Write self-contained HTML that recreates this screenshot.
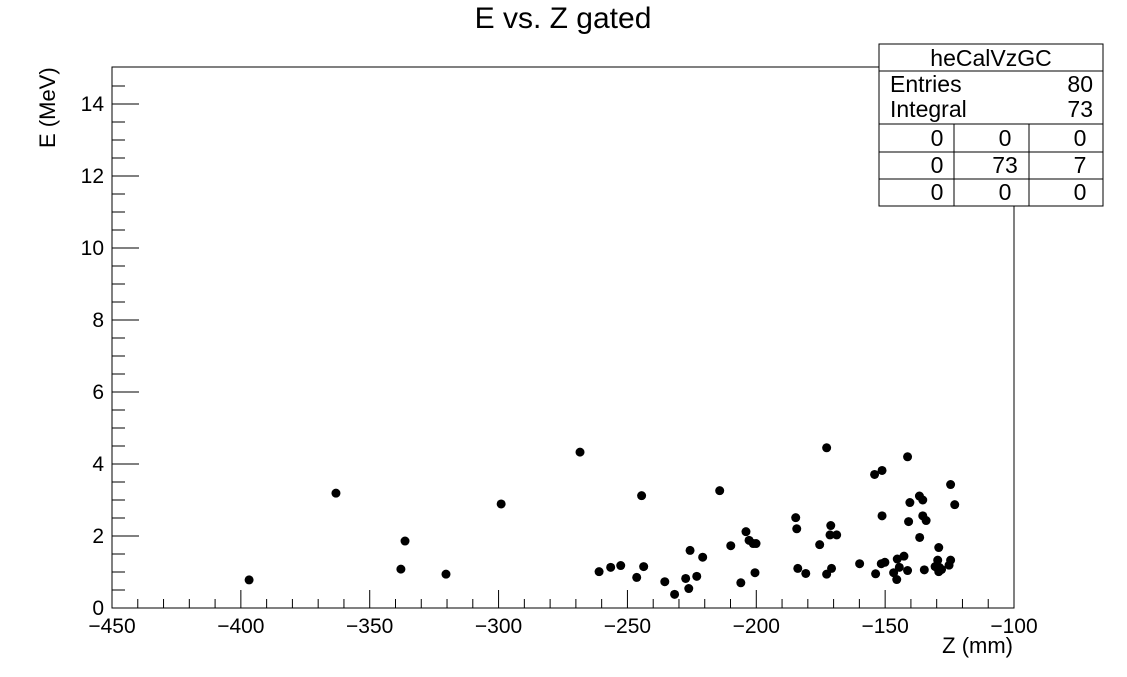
<!DOCTYPE html>
<html><head><meta charset="utf-8"><style>
body{margin:0;background:#fff;}
svg{display:block;font-family:"Liberation Sans",sans-serif;}
</style></head><body>
<svg id="chart" width="1127" height="677">
<text x="563" y="28" font-size="30" text-anchor="middle">E vs. Z gated</text>
<rect x="112" y="67" width="902" height="541" fill="none" stroke="#000" stroke-width="1"/>
<g id="axes"></g>
<g id="points"></g>
<text x="1013" y="653" font-size="22" text-anchor="end">Z (mm)</text>
<text transform="translate(55,148) rotate(-90)" font-size="22" text-anchor="start">E (MeV)</text>
<g font-size="23">
<rect x="879" y="44" width="224" height="162" fill="#fff" stroke="#000"/>
<text x="991" y="66" text-anchor="middle">heCalVzGC</text>
<line x1="879" y1="71" x2="1103" y2="71" stroke="#000"/>
<text x="890" y="92">Entries</text>
<text x="1093" y="92" text-anchor="end">80</text>
<text x="890" y="117">Integral</text>
<text x="1093" y="117" text-anchor="end">73</text>
<line x1="879" y1="124" x2="1103" y2="124" stroke="#000"/>
<line x1="879" y1="152" x2="1103" y2="152" stroke="#000"/>
<line x1="879" y1="179" x2="1103" y2="179" stroke="#000"/>
<line x1="954" y1="124" x2="954" y2="206" stroke="#000"/>
<line x1="1029" y1="124" x2="1029" y2="206" stroke="#000"/>
<text x="937" y="146" text-anchor="middle">0</text><text x="1005" y="146" text-anchor="middle">0</text><text x="1080" y="146" text-anchor="middle">0</text>
<text x="937" y="173" text-anchor="middle">0</text><text x="1005" y="173" text-anchor="middle">73</text><text x="1080" y="173" text-anchor="middle">7</text>
<text x="937" y="200" text-anchor="middle">0</text><text x="1005" y="200" text-anchor="middle">0</text><text x="1080" y="200" text-anchor="middle">0</text>
</g>
</svg>
<script>
const xTicks=[-450,-400,-350,-300,-250,-200,-150,-100];
const yTicks=[0,2,4,6,8,10,12,14];
const zValues=[-396.8,-363.1,-337.9,-336.3,-320.4,-299.0,-268.4,-261.0,-256.5,-252.6,-246.4,-244.5,-243.7,-235.5,-231.7,-227.4,-226.2,-225.7,-223.1,-220.8,-214.2,-209.9,-206.0,-204.0,-202.8,-201.2,-200.1,-200.5,-184.7,-184.3,-183.9,-180.8,-172.7,-175.4,-171.1,-171.4,-168.8,-172.7,-170.8,-159.9,-154.1,-151.2,-151.2,-153.7,-151.5,-150.1,-146.7,-145.5,-144.5,-145.3,-142.7,-141.3,-140.4,-140.9,-141.3,-136.7,-135.4,-135.4,-134.1,-136.6,-134.8,-129.2,-129.6,-130.6,-129.0,-129.2,-128.1,-125.2,-124.6,-124.6,-123.0];
const eValues=[0.78,3.19,1.08,1.86,0.94,2.89,4.33,1.01,1.13,1.18,0.85,3.12,1.15,0.73,0.38,0.82,0.54,1.60,0.88,1.41,3.26,1.73,0.70,2.12,1.88,1.79,1.79,0.98,2.51,2.20,1.10,0.96,4.45,1.76,2.29,2.03,2.03,0.94,1.10,1.23,3.71,3.82,2.56,0.95,1.23,1.27,0.98,0.79,1.13,1.36,1.44,4.20,2.93,2.40,1.04,3.11,3.00,2.56,2.43,1.96,1.06,1.68,1.33,1.15,1.13,1.01,1.07,1.19,1.33,3.43,2.87];
const X0=112,X1=1014,Y0=608,Y1=68;
const xMin=-450,xMax=-100,yMin=0,yMax=15;
const sx=v=>X0+(v-xMin)/(xMax-xMin)*(X1-X0);
const sy=v=>Y0-(v-yMin)/(yMax-yMin)*(Y0-Y1);
const NS="http://www.w3.org/2000/svg";
const axes=document.getElementById('axes');
function mk(tag,attrs,parent){const e=document.createElementNS(NS,tag);for(const k in attrs)e.setAttribute(k,attrs[k]);parent.appendChild(e);return e;}
for(let v=xMin;v<=xMax;v+=10){
  const major=(v%50===0);
  const l=mk('line',{x1:sx(v),x2:sx(v),y1:Y0,y2:Y0-(major?18:9),stroke:'#000'},axes);
  
  
}
for(let v=yMin;v<=14.5+0.001;v+=0.5){
  const major=(Math.abs(v%2)<0.001);
  const l=mk('line',{x1:X0,x2:X0+(major?27:13),y1:sy(v),y2:sy(v),stroke:'#000'},axes);
  
  
}
xTicks.forEach(v=>{
  const t=mk('text',{x:sx(v),y:633,'font-size':21,'text-anchor':'middle'},axes);
  t.textContent=String(v).replace('-','\u2212');
  
  
});
yTicks.forEach(v=>{
  const t=mk('text',{x:104,y:sy(v)+7,'font-size':21,'text-anchor':'end'},axes);
  t.textContent=v;
  
  
});
const pts=document.getElementById('points');
zValues.forEach((z,i)=>{
  const c=mk('circle',{cx:sx(z),cy:sy(eValues[i]),r:4.5,fill:'#000'},pts);
  
  
});
</script>
</body></html>
